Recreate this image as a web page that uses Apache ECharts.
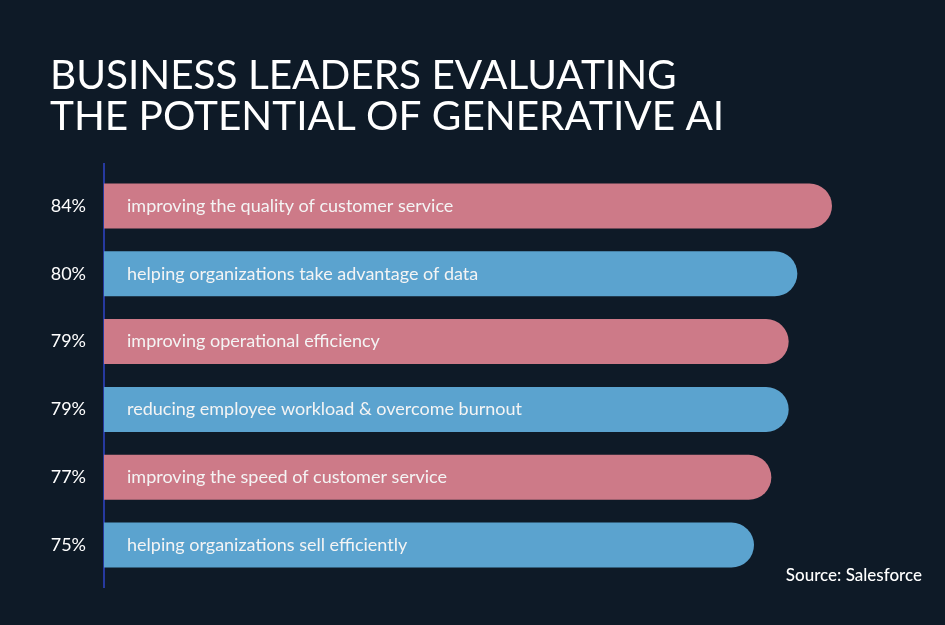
<!DOCTYPE html>
<html><head><meta charset="utf-8">
<script src="https://cdn.jsdelivr.net/npm/echarts@6/dist/echarts.min.js"></script>
<style>html,body{margin:0;padding:0;background:#0e1a27;}#c{width:945px;height:625px;}</style>
</head><body><div id="c"></div>
<script>
const categories = [
  'improving the quality of customer service',
  'helping organizations take advantage of data',
  'improving operational efficiency',
  'reducing employee workload & overcome burnout',
  'improving the speed of customer service',
  'helping organizations sell efficiently'
];
const values = [84, 80, 79, 79, 77, 75];
const title = 'BUSINESS LEADERS EVALUATING\nTHE POTENTIAL OF GENERATIVE AI';
const source = 'Source: Salesforce';

const palette = ['#cd7a88', '#5ba3cf'];
const chart = echarts.init(document.getElementById('c'));
chart.setOption({
  backgroundColor: '#0e1a27',
  animation: false,
  title: {
    text: title, left: 45, top: 50,
    textStyle: { color: '#ffffff', fontFamily: 'Lato', fontSize: 40.5, fontWeight: 'normal', lineHeight: 41 }
  },
  grid: { left: 104, right: 61, top: 172, height: 407, containLabel: false },
  xAxis: { type: 'value', min: 0, max: 90, show: false },
  yAxis: {
    type: 'category', data: categories, inverse: true,
    axisLine: { show: false }, axisTick: { show: false },
    axisLabel: {
      color: '#ffffff', fontFamily: 'Lato', fontSize: 18, margin: 18,
      formatter: (v, i) => values[i] + '%'
    }
  },
  series: [{
    type: 'bar', data: values, barWidth: 45,
    itemStyle: {
      color: p => palette[p.dataIndex % 2],
      borderRadius: [0, 23, 23, 0]
    },
    label: {
      show: true, position: 'insideLeft', distance: 23,
      color: '#f4f4f4', fontFamily: 'Lato', fontSize: 18,
      formatter: p => categories[p.dataIndex]
    }
  }],
  graphic: [
    { type: 'line', shape: { x1: 104, y1: 163, x2: 104, y2: 588 }, style: { stroke: '#2f45c8', lineWidth: 1.5 } },
    { type: 'text', right: 23, top: 567, style: { text: source, fill: '#ffffff', font: '500 17px Lato' } }
  ]
});
</script></body></html>
